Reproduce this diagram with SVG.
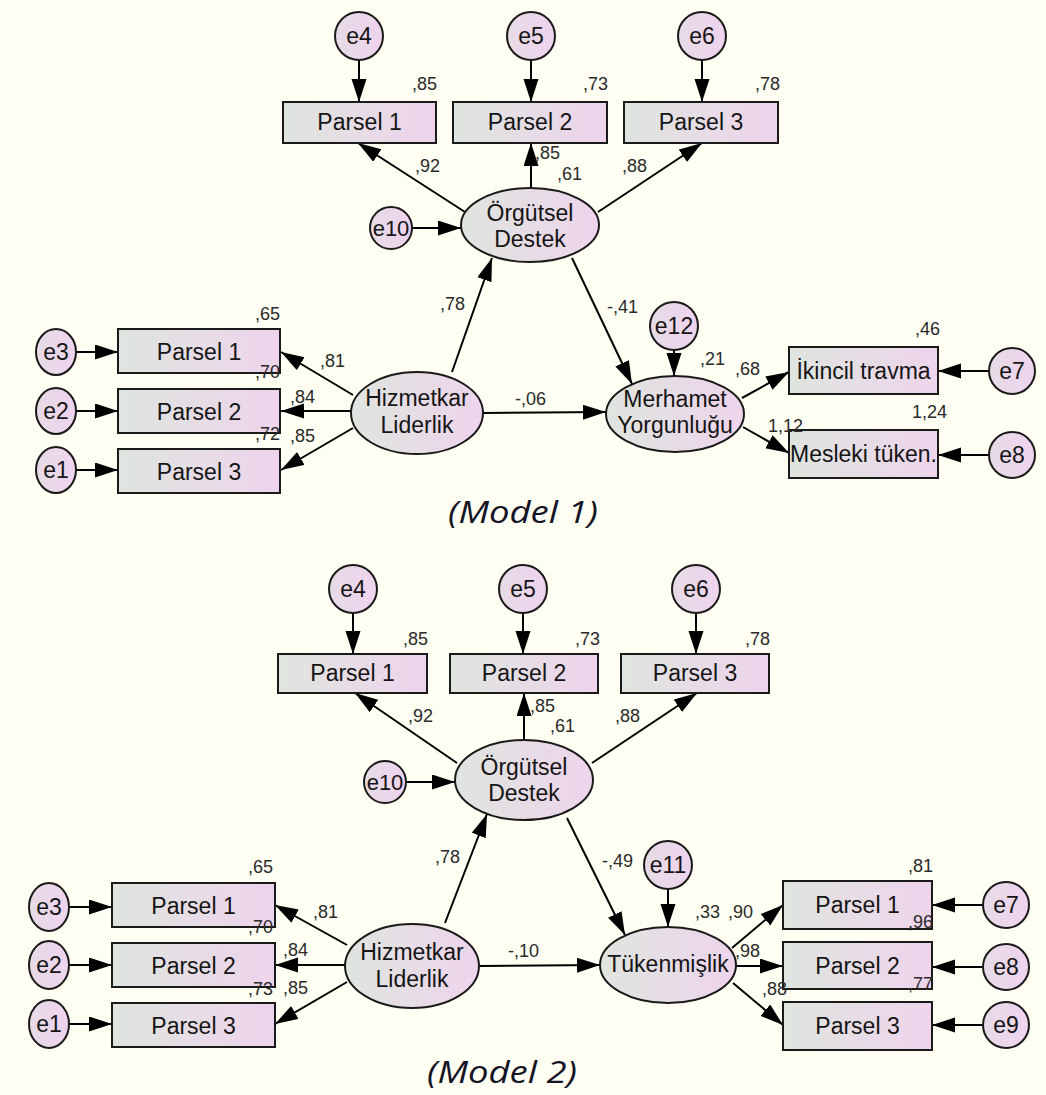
<svg xmlns="http://www.w3.org/2000/svg" width="1046" height="1095" viewBox="0 0 1046 1095">
<defs>
<linearGradient id="gf" x1="0" y1="0" x2="1" y2="0">
<stop offset="0" stop-color="#dfe5df"/>
<stop offset="1" stop-color="#eed4ec"/>
</linearGradient>
<linearGradient id="gc" x1="0" y1="0" x2="1" y2="0">
<stop offset="0" stop-color="#e6dbe6"/>
<stop offset="1" stop-color="#efd3ee"/>
</linearGradient>
<marker id="ah" markerUnits="userSpaceOnUse" markerWidth="26" markerHeight="16" refX="23" refY="7.5" orient="auto">
<path d="M0,0 L23,7.5 L0,15 z" fill="#000"/>
</marker>
<style>
.bx{fill:url(#gf);stroke:#1a1a1a;stroke-width:2}
.el{fill:url(#gf);stroke:#1a1a1a;stroke-width:2}
.ci{fill:url(#gc);stroke:#1a1a1a;stroke-width:2}
.t{font-family:"Liberation Sans",Arial,sans-serif;font-size:23px;fill:#151515;text-anchor:middle}
.te{font-family:"Liberation Sans",Arial,sans-serif;font-size:22px;fill:#151515;text-anchor:middle}
.n{font-family:"Liberation Sans",Arial,sans-serif;font-size:18px;fill:#2a2a2a;text-anchor:end}
.ns{font-family:"Liberation Sans",Arial,sans-serif;font-size:18px;fill:#2a2a2a;text-anchor:start}
.ttl{font-family:"Open Sans",sans-serif;font-style:italic;font-size:31px;fill:#141424}
#connectors line{stroke:#000;stroke-width:2;marker-end:url(#ah)}
</style>
</defs>
<rect x="0" y="0" width="1046" height="1095" fill="#fefef2"/>

<g id="connectors">
<!-- Model 1 -->
<line x1="359" y1="60" x2="359" y2="102"/>
<line x1="531" y1="60" x2="531" y2="102"/>
<line x1="702" y1="60" x2="702" y2="102"/>
<line x1="465" y1="212" x2="358" y2="143"/>
<line x1="531" y1="188" x2="531" y2="143"/>
<line x1="598" y1="212" x2="702" y2="143"/>
<line x1="412" y1="228" x2="461" y2="228"/>
<line x1="452" y1="372" x2="492" y2="258"/>
<line x1="353" y1="395" x2="281" y2="352"/>
<line x1="351" y1="411" x2="281" y2="411"/>
<line x1="353" y1="428" x2="281" y2="470"/>
<line x1="76" y1="352" x2="118" y2="352"/>
<line x1="76" y1="411" x2="118" y2="411"/>
<line x1="76" y1="470" x2="118" y2="470"/>
<line x1="572" y1="258" x2="632" y2="384"/>
<line x1="674" y1="350" x2="674" y2="376"/>
<line x1="483" y1="413" x2="606" y2="412"/>
<line x1="742" y1="398" x2="789" y2="372"/>
<line x1="743" y1="427" x2="789" y2="453"/>
<line x1="989" y1="371" x2="938" y2="371"/>
<line x1="989" y1="455" x2="938" y2="455"/>
<!-- Model 2 -->
<line x1="353" y1="613" x2="353" y2="654"/>
<line x1="523" y1="613" x2="523" y2="654"/>
<line x1="696" y1="613" x2="696" y2="654"/>
<line x1="457" y1="763" x2="355" y2="693"/>
<line x1="524" y1="740" x2="524" y2="693"/>
<line x1="592" y1="763" x2="697" y2="693"/>
<line x1="406" y1="782" x2="455" y2="782"/>
<line x1="445" y1="923" x2="487" y2="814"/>
<line x1="347" y1="945" x2="275" y2="905"/>
<line x1="345" y1="965" x2="275" y2="965"/>
<line x1="347" y1="982" x2="275" y2="1024"/>
<line x1="69" y1="907" x2="112" y2="907"/>
<line x1="69" y1="965" x2="112" y2="965"/>
<line x1="69" y1="1024" x2="112" y2="1024"/>
<line x1="567" y1="818" x2="625" y2="935"/>
<line x1="668" y1="889" x2="668" y2="927"/>
<line x1="479" y1="966" x2="600" y2="965"/>
<line x1="732" y1="948" x2="783" y2="905"/>
<line x1="736" y1="966" x2="783" y2="966"/>
<line x1="733" y1="983" x2="783" y2="1025"/>
<line x1="983" y1="905" x2="932" y2="905"/>
<line x1="983" y1="967" x2="932" y2="967"/>
<line x1="983" y1="1025" x2="932" y2="1025"/>
</g>

<!-- ===== Model 1 nodes ===== -->
<g id="m1-e4"><circle class="ci" cx="359" cy="36" r="24"/><text class="t" x="359" y="44">e4</text></g>
<g id="m1-e5"><circle class="ci" cx="531" cy="36" r="24"/><text class="t" x="531" y="44">e5</text></g>
<g id="m1-e6"><circle class="ci" cx="702" cy="36" r="24"/><text class="t" x="702" y="44">e6</text></g>
<g id="m1-od-p1"><rect class="bx" x="283" y="102" width="153" height="41"/><text class="t" x="359.5" y="130">Parsel 1</text></g>
<g id="m1-od-p2"><rect class="bx" x="453" y="102" width="154" height="41"/><text class="t" x="530" y="130">Parsel 2</text></g>
<g id="m1-od-p3"><rect class="bx" x="624" y="102" width="154" height="41"/><text class="t" x="701" y="130">Parsel 3</text></g>
<g id="m1-od"><ellipse class="el" cx="530" cy="225" rx="69" ry="37"/><text class="t" x="530" y="221">Örgütsel</text><text class="t" x="530" y="247">Destek</text></g>
<g id="m1-e10"><circle class="ci" cx="391" cy="228" r="21"/><text class="te" x="391" y="236">e10</text></g>
<g id="m1-hl"><ellipse class="el" cx="417" cy="413" rx="66" ry="41"/><text class="t" x="417" y="406">Hizmetkar</text><text class="t" x="417" y="433">Liderlik</text></g>
<g id="m1-hl-p1"><rect class="bx" x="118" y="329" width="162" height="44"/><text class="t" x="199" y="360">Parsel 1</text></g>
<g id="m1-hl-p2"><rect class="bx" x="118" y="389" width="162" height="44"/><text class="t" x="199" y="420">Parsel 2</text></g>
<g id="m1-hl-p3"><rect class="bx" x="118" y="449" width="162" height="44"/><text class="t" x="199" y="480">Parsel 3</text></g>
<g id="m1-e3"><ellipse class="ci" cx="56" cy="352" rx="20" ry="23"/><text class="t" x="56" y="360">e3</text></g>
<g id="m1-e2"><ellipse class="ci" cx="56" cy="411" rx="20" ry="23"/><text class="t" x="56" y="419">e2</text></g>
<g id="m1-e1"><ellipse class="ci" cx="56" cy="470" rx="20" ry="23"/><text class="t" x="56" y="478">e1</text></g>
<g id="m1-my"><ellipse class="el" cx="675" cy="414" rx="69" ry="38"/><text class="t" x="675" y="407">Merhamet</text><text class="t" x="675" y="433">Yorgunluğu</text></g>
<g id="m1-e12"><circle class="ci" cx="674" cy="326" r="24"/><text class="t" x="674" y="334">e12</text></g>
<g id="m1-it"><rect class="bx" x="789" y="347" width="149" height="47"/><text class="t" x="863.5" y="379">İkincil travma</text></g>
<g id="m1-mt"><rect class="bx" x="789" y="430" width="149" height="48"/><text class="t" x="863.5" y="462">Mesleki tüken.</text></g>
<g id="m1-e7"><circle class="ci" cx="1012" cy="371" r="23"/><text class="t" x="1012" y="379">e7</text></g>
<g id="m1-e8"><circle class="ci" cx="1012" cy="455" r="23"/><text class="t" x="1012" y="463">e8</text></g>

<g id="m1-labels">
<text class="n" x="437" y="90">,85</text>
<text class="n" x="608" y="90">,73</text>
<text class="n" x="780" y="90">,78</text>
<text class="n" x="440" y="172">,92</text>
<text class="n" x="560" y="159">,85</text>
<text class="n" x="582" y="180">,61</text>
<text class="n" x="647" y="172">,88</text>
<text class="n" x="280" y="320">,65</text>
<text class="n" x="345" y="367">,81</text>
<text class="n" x="280" y="378">,70</text>
<text class="n" x="315" y="403">,84</text>
<text class="n" x="280" y="440">,72</text>
<text class="n" x="315" y="442">,85</text>
<text class="n" x="465" y="310">,78</text>
<text class="ns" x="515" y="405">-,06</text>
<text class="ns" x="607" y="313">-,41</text>
<text class="n" x="725" y="365">,21</text>
<text class="n" x="760" y="375">,68</text>
<text class="n" x="940" y="335">,46</text>
<text class="n" x="947" y="418">1,24</text>
<text class="ns" x="768" y="432">1,12</text>
</g>
<text class="ttl" x="448" y="523" textLength="150" lengthAdjust="spacingAndGlyphs">(Model 1)</text>

<!-- ===== Model 2 nodes ===== -->
<g id="m2-e4"><circle class="ci" cx="353" cy="589" r="24"/><text class="t" x="353" y="597">e4</text></g>
<g id="m2-e5"><circle class="ci" cx="523" cy="589" r="24"/><text class="t" x="523" y="597">e5</text></g>
<g id="m2-e6"><circle class="ci" cx="696" cy="589" r="24"/><text class="t" x="696" y="597">e6</text></g>
<g id="m2-od-p1"><rect class="bx" x="278" y="654" width="149" height="39"/><text class="t" x="352.5" y="681">Parsel 1</text></g>
<g id="m2-od-p2"><rect class="bx" x="450" y="654" width="148" height="39"/><text class="t" x="524" y="681">Parsel 2</text></g>
<g id="m2-od-p3"><rect class="bx" x="621" y="654" width="148" height="39"/><text class="t" x="695" y="681">Parsel 3</text></g>
<g id="m2-od"><ellipse class="el" cx="524" cy="780" rx="69" ry="40"/><text class="t" x="524" y="775">Örgütsel</text><text class="t" x="524" y="801">Destek</text></g>
<g id="m2-e10"><circle class="ci" cx="385" cy="782" r="21"/><text class="te" x="385" y="790">e10</text></g>
<g id="m2-hl"><ellipse class="el" cx="412" cy="966" rx="67" ry="42"/><text class="t" x="412" y="960">Hizmetkar</text><text class="t" x="412" y="987">Liderlik</text></g>
<g id="m2-hl-p1"><rect class="bx" x="112" y="883" width="163" height="44"/><text class="t" x="193.5" y="914">Parsel 1</text></g>
<g id="m2-hl-p2"><rect class="bx" x="112" y="943" width="163" height="44"/><text class="t" x="193.5" y="974">Parsel 2</text></g>
<g id="m2-hl-p3"><rect class="bx" x="112" y="1003" width="163" height="44"/><text class="t" x="193.5" y="1034">Parsel 3</text></g>
<g id="m2-e3"><ellipse class="ci" cx="49" cy="907" rx="20" ry="24"/><text class="t" x="49" y="915">e3</text></g>
<g id="m2-e2"><ellipse class="ci" cx="49" cy="965" rx="20" ry="24"/><text class="t" x="49" y="973">e2</text></g>
<g id="m2-e1"><ellipse class="ci" cx="49" cy="1024" rx="20" ry="24"/><text class="t" x="49" y="1032">e1</text></g>
<g id="m2-tk"><ellipse class="el" cx="668" cy="965" rx="68" ry="38"/><text class="t" x="668" y="972">Tükenmişlik</text></g>
<g id="m2-e11"><circle class="ci" cx="668" cy="865" r="24"/><text class="t" x="668" y="873">e11</text></g>
<g id="m2-tk-p1"><rect class="bx" x="783" y="881" width="149" height="48"/><text class="t" x="857.5" y="913">Parsel 1</text></g>
<g id="m2-tk-p2"><rect class="bx" x="783" y="942" width="149" height="47"/><text class="t" x="857.5" y="974">Parsel 2</text></g>
<g id="m2-tk-p3"><rect class="bx" x="783" y="1002" width="149" height="48"/><text class="t" x="857.5" y="1034">Parsel 3</text></g>
<g id="m2-e7"><circle class="ci" cx="1006" cy="905" r="23"/><text class="t" x="1006" y="913">e7</text></g>
<g id="m2-e8"><circle class="ci" cx="1006" cy="967" r="23"/><text class="t" x="1006" y="975">e8</text></g>
<g id="m2-e9"><circle class="ci" cx="1006" cy="1025" r="23"/><text class="t" x="1006" y="1033">e9</text></g>

<g id="m2-labels">
<text class="n" x="428" y="645">,85</text>
<text class="n" x="600" y="645">,73</text>
<text class="n" x="770" y="645">,78</text>
<text class="n" x="433" y="722">,92</text>
<text class="n" x="555" y="712">,85</text>
<text class="n" x="575" y="732">,61</text>
<text class="n" x="640" y="722">,88</text>
<text class="n" x="273" y="873">,65</text>
<text class="n" x="338" y="918">,81</text>
<text class="n" x="273" y="933">,70</text>
<text class="n" x="308" y="956">,84</text>
<text class="n" x="273" y="995">,73</text>
<text class="n" x="308" y="994">,85</text>
<text class="n" x="460" y="863">,78</text>
<text class="ns" x="508" y="957">-,10</text>
<text class="ns" x="602" y="867">-,49</text>
<text class="n" x="720" y="918">,33</text>
<text class="n" x="753" y="918">,90</text>
<text class="n" x="760" y="957">,98</text>
<text class="n" x="787" y="995">,88</text>
<text class="n" x="933" y="872">,81</text>
<text class="n" x="933" y="928">,96</text>
<text class="n" x="933" y="990">,77</text>
</g>
<text class="ttl" x="427" y="1083" textLength="150" lengthAdjust="spacingAndGlyphs">(Model 2)</text>
</svg>
